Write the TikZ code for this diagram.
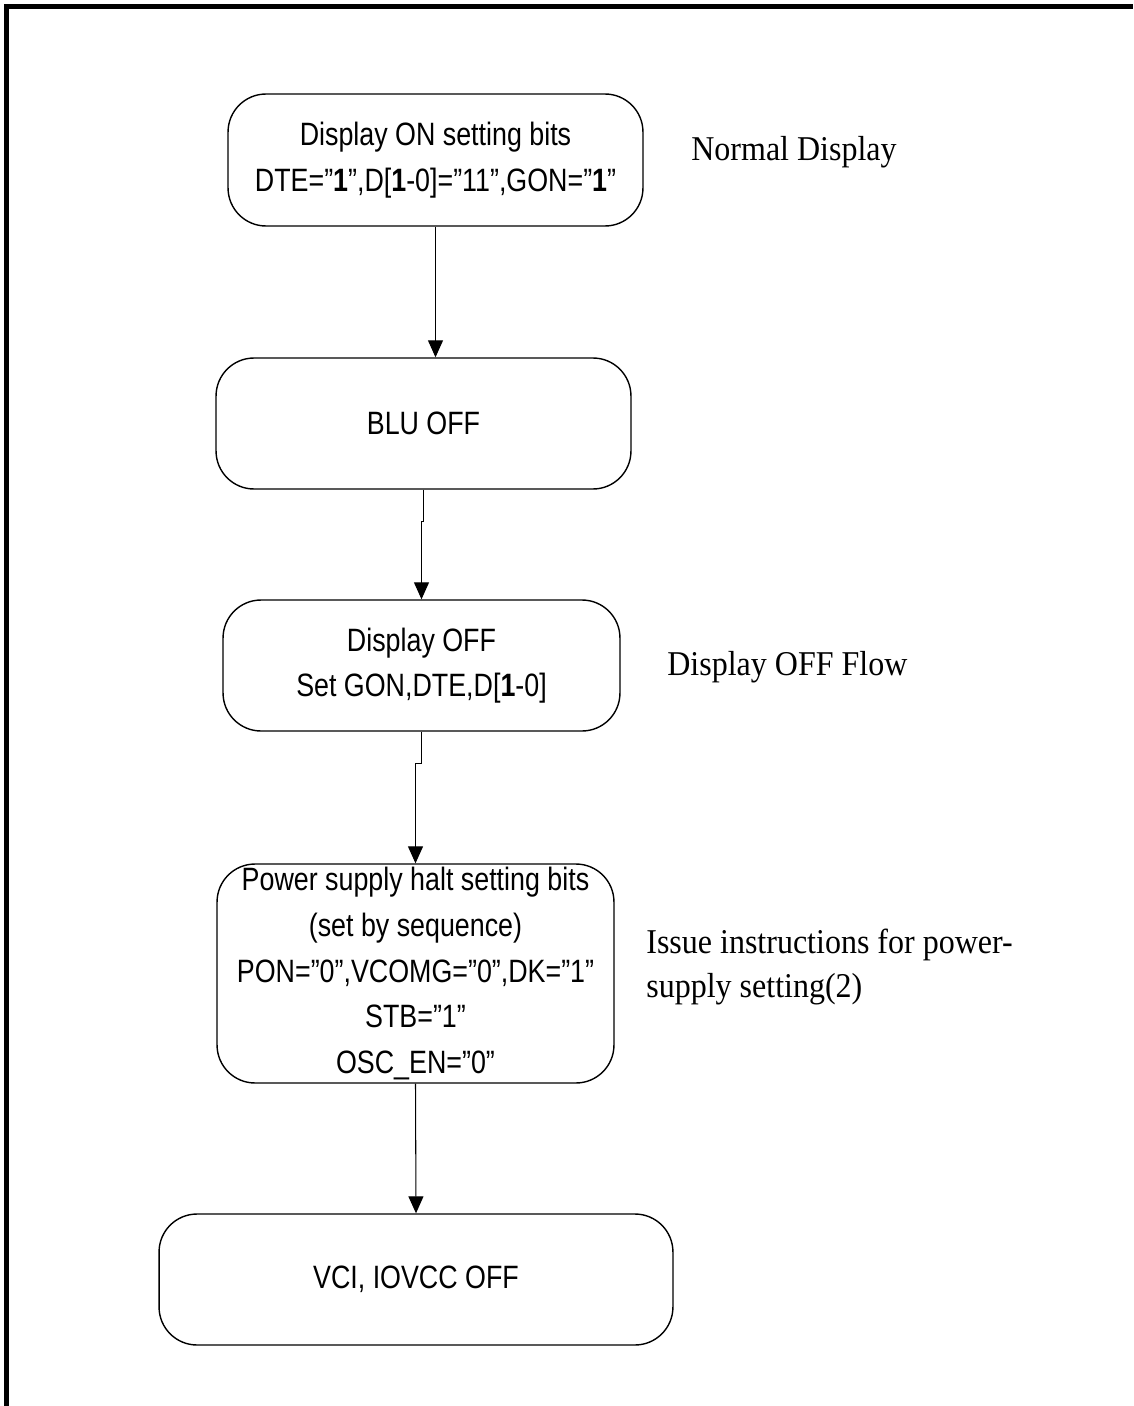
\documentclass[tikz,border=0pt]{standalone}
\usepackage{fontspec}
\usepackage{tikz}
\usetikzlibrary{arrows.meta}
\setmainfont{Liberation Serif}
\newfontfamily\boxfont[FakeStretch=0.83]{Liberation Sans}
\newfontfamily\notefont[FakeStretch=0.92]{Liberation Serif}

\tikzset{
  flowbox/.style={draw,line width=0.8pt,rounded corners=0.76cm,inner sep=0pt,
    align=center,font=\boxfont\fontsize{18.4}{26}\selectfont},
  sidenote/.style={anchor=west,inner sep=0pt,align=left,
    font=\notefont\fontsize{19.8}{25}\selectfont},
  flowarrow/.style={line width=0.6pt,-{Triangle[width=0.3cm,length=0.34cm]}}
}

\begin{document}
\begin{tikzpicture}[x=0.02cm,y=-0.02cm]
        \useasboundingbox (0,0) rectangle (1133,1406);
        % frame
        \draw[line width=3.1pt] (6.5,1406)--(6.5,6.3)--(1133,6.3);
        % flow steps
        \node[flowbox,minimum width=8.3cm,minimum height=2.64cm] (dispon) at (435.5,160)
          {Display ON setting bits\\DTE=”\textbf{1}”,D[\textbf{1}-0]=”11”,GON=”\textbf{1}”};
        \node[flowbox,minimum width=8.3cm,minimum height=2.62cm] (bluoff) at (423.5,423.5) {BLU OFF};
        \node[flowbox,minimum width=7.94cm,minimum height=2.62cm] (dispoff) at (421.5,665.5)
          {Display OFF\\Set GON,DTE,D[\textbf{1}-0]};
        \node[flowbox,minimum width=7.94cm,minimum height=4.38cm] (pwrhalt) at (415.5,973.5)
          {Power supply halt setting bits\\(set by sequence)\\PON=”0”,VCOMG=”0”,DK=”1”\\STB=”1”\\OSC\_EN=”0”};
        \node[flowbox,minimum width=10.28cm,minimum height=2.62cm] (vcioff) at (416,1279.5) {VCI, IOVCC OFF};
        % notes on the right
        \node[sidenote] (normal) at (691,152) {Normal Display};
        \node[sidenote] (offflow) at (667,667) {Display OFF Flow};
        \node[sidenote] (issue) at (646,967) {Issue instructions for power-\\supply setting(2)};
        % connectors
        \draw[flowarrow] (dispon.south) -- (dispon.south |- bluoff.north);
        \draw[flowarrow] (bluoff.south) -- ++(0,32) -| (dispoff.north);
        \draw[flowarrow] (dispoff.south) -- ++(0,32) -| (pwrhalt.north);
        \draw[flowarrow] (pwrhalt.south) -- (vcioff.north);
      \end{tikzpicture}
\end{document}
